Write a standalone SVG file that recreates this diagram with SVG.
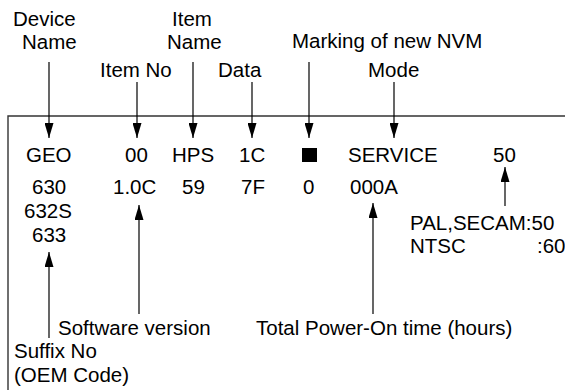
<svg xmlns="http://www.w3.org/2000/svg" width="565" height="390" viewBox="0 0 565 390">
<defs>
<style>
text{font-family:"Liberation Sans",Arial,sans-serif;font-size:20.5px;fill:#000}
.ln{stroke:#000;stroke-width:1.2;fill:none}
.fr{stroke:#333;stroke-width:1.4;fill:none}
</style>
<marker id="ah" viewBox="0 -4.5 15 9" refX="15" refY="0" markerWidth="15" markerHeight="9" markerUnits="userSpaceOnUse" orient="auto">
<path d="M0,-4.5 L15,0 L0,4.5 z" fill="#000"/>
</marker>
</defs>
<rect width="565" height="390" fill="#fff"/>
<g id="frame">
<path class="fr" d="M8,390 V116 H565"/>
</g>
<g id="labels-top">
<g id="device-name"><text x="13" y="26">Device</text><text x="22" y="49">Name</text></g>
<g id="item-no"><text x="100" y="77">Item No</text></g>
<g id="item-name"><text x="172" y="26">Item</text><text x="167" y="49">Name</text></g>
<g id="data"><text x="218" y="77">Data</text></g>
<g id="marking"><text x="292" y="48">Marking of new NVM</text></g>
<g id="mode"><text x="368" y="77">Mode</text></g>
</g>
<g id="row1">
<text x="26" y="162">GEO</text>
<text x="125" y="162">00</text>
<text x="172" y="162">HPS</text>
<text x="239" y="162">1C</text>
<rect id="nvm-mark" x="302" y="148" width="15" height="14" fill="#000"/>
<text x="348" y="162">SERVICE</text>
<text x="493" y="162">50</text>
</g>
<g id="row2">
<text x="32" y="194">630</text>
<text x="113" y="194">1.0C</text>
<text x="182" y="194">59</text>
<text x="241" y="194">7F</text>
<text x="303" y="194">0</text>
<text x="350" y="194">000A</text>
<text x="24" y="218">632S</text>
<text x="32" y="242">633</text>
</g>
<g id="freq-note">
<text x="410" y="230">PAL,SECAM:50</text>
<text x="410" y="253">NTSC</text>
<text x="537" y="253">:60</text>
</g>
<g id="labels-bottom">
<g id="software-version"><text x="58" y="335">Software version</text></g>
<g id="power-on"><text x="256" y="335">Total Power-On time (hours)</text></g>
<g id="suffix-no"><text x="14" y="358">Suffix No</text><text x="14" y="382">(OEM Code)</text></g>
</g>
<g id="connectors">
<line class="ln" x1="49" y1="62" x2="49" y2="138" marker-end="url(#ah)"/>
<line class="ln" x1="137" y1="82" x2="137" y2="138" marker-end="url(#ah)"/>
<line class="ln" x1="193" y1="62" x2="193" y2="138" marker-end="url(#ah)"/>
<line class="ln" x1="252" y1="82" x2="252" y2="138" marker-end="url(#ah)"/>
<line class="ln" x1="309" y1="62" x2="309" y2="138" marker-end="url(#ah)"/>
<line class="ln" x1="394" y1="82" x2="394" y2="138" marker-end="url(#ah)"/>
<line class="ln" x1="505" y1="206" x2="505" y2="167" marker-end="url(#ah)"/>
<line class="ln" x1="373" y1="314" x2="373" y2="203" marker-end="url(#ah)"/>
<line class="ln" x1="139" y1="314" x2="139" y2="205" marker-end="url(#ah)"/>
<line class="ln" x1="49" y1="338" x2="49" y2="252" marker-end="url(#ah)"/>
</g>
</svg>
